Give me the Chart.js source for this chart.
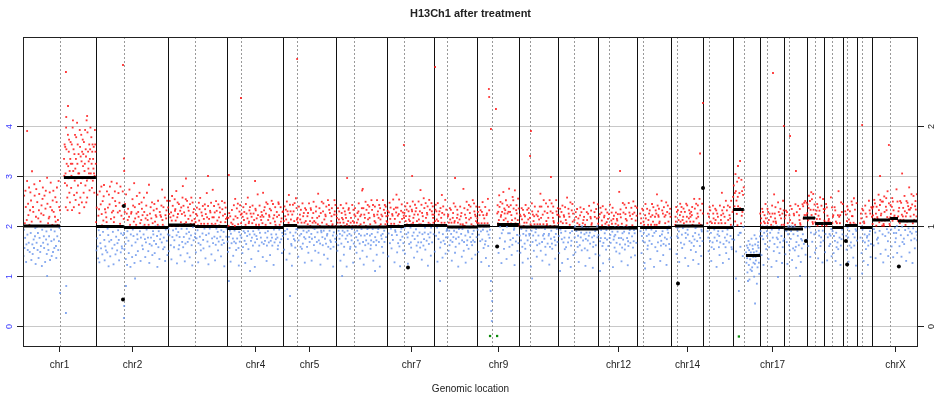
<!DOCTYPE html>
<html>
<head>
<meta charset="utf-8">
<script src="https://cdn.jsdelivr.net/npm/chart.js@4.4.0/dist/chart.umd.min.js"></script>
<style>
html, body { margin: 0; padding: 0; background: #fff; }
canvas { display: block; }
</style>
</head>
<body>
<canvas id="cnChart" width="941" height="394"></canvas>
<script>
// genome laid out end to end, positions in Mb
const chromosomes = ["chr1","chr2","chr3","chr4","chr5","chr6","chr7","chr8","chr9","chr10","chr11","chr12",
  "chr13","chr14","chr15","chr16","chr17","chr18","chr19","chr20","chr21","chr22","chrX"]
const chrEnd = [248, 493, 694, 884, 1064, 1238, 1397, 1544, 1686, 1819, 1955, 2088,
  2203, 2312, 2414, 2506, 2587, 2666, 2723, 2788, 2836, 2887, 3043]
const centromere = [126, 343, 585, 741, 932, 1125, 1295, 1442, 1595, 1724, 1873, 1992,
  2108, 2224, 2332, 2451, 2530, 2604, 2693, 2751, 2802, 2853, 2948]
const labeledChr = ["chr1","chr2","chr4","chr5","chr7","chr9","chr12","chr14","chr17","chrX"]
const leftTicks = [0, 1, 2, 3, 4]
const rightTicks = [0, 1, 2]

// segmented copy number
const segStart = [0, 139, 248, 343, 493, 585, 694, 741, 884, 932, 1064, 1238, 1295, 1397, 1442, 1544, 1612,
  1686, 1819, 1873, 1955, 2098, 2217, 2326, 2414, 2458, 2506, 2587, 2652, 2666, 2693, 2723, 2751, 2795, 2846,
  2887, 2948, 2975]
const segEnd = [126, 248, 343, 493, 585, 694, 741, 884, 932, 1064, 1238, 1295, 1397, 1442, 1544, 1588, 1686,
  1819, 1873, 1955, 2088, 2203, 2312, 2414, 2451, 2506, 2587, 2652, 2666, 2693, 2723, 2751, 2788, 2836, 2887,
  2948, 2975, 3043]
const segValue = [2.00, 2.97, 1.99, 1.97, 2.02, 1.99, 1.95, 1.97, 2.01, 1.98, 1.98, 1.99, 2.01, 2.01, 1.98, 2.00, 2.03,
  1.98, 1.97, 1.94, 1.96, 1.97, 2.00, 1.97, 2.33, 1.41, 1.97, 1.94, 2.16, 2.16, 2.05, 2.05, 1.97, 2.01, 1.97,
  2.12, 2.15, 2.10]

// probe levels: char -> offset from the segment (for copy number 2); capital = half a level higher
const levelChars = "0123456789abcdefghijklmnopqrstuvwxyz"
const levelValues = [-0.80, -0.76, -0.72, -0.68, -0.64, -0.60, -0.56, -0.52, -0.48, -0.44,
  -0.40, -0.335, -0.27, -0.205, -0.14, -0.075, -0.01, 0.055, 0.12, 0.185, 0.25, 0.315, 0.38, 0.445, 0.51,
  0.575, 0.64, 0.705, 0.77, 0.835, 0.90, 0.965, 1.03, 1.095, 1.16, 1.225]
const halfLevel = 0.0325

// one char per probe, probes in genomic order within each segment
const segProbes = [
  "K5fP9hCrm2AiuD8nJbsG7lQeo3HxA6mKc9tPdF1jRbgN8eI4lqCu7HakM0fOsbJd9Pg2LrcE6vnAh8IdjQ3mTfB5lGo7rKc9EjpHa4NsdGi8uBmFl",
  "kGnfMhaQmjEc9pIgLodHbkNjeGn9jQsHmaClFpiBkOgdRjnEhlAh8qMcKfpJbLgoIldNaHjqEmKbsFcPgLiJhnDkmQhgOjeLnFkiMhdGqnLj",
  "H8mCqa4JfL2rDbn9SkG6oEiPtc3LaK8jHr7FmD0qBnS5gIcuK9pEl1HjAro6MdgT8bKfQc3NlhS7eJa9MrDgI",
  "E9lNb4QdK1fImc7JsGh0eKlA5pFnDiu2MjB6hKqeC8lJgNrfH3dIomAk9GePlhC5jBnFrkId8hT2bKgMdjAo6HfeLcN7iGkbJmD0hOafG4lCkeJnBsIh9MdGaP3kFjLcO6e",
  "Lf7JdNgIak3HpCmEjg9BoKlHfQd1InJe8MaCgK5hLfJbOs9mCkG2jAohDfN6bLiKec4MjGdOaH0nFkBlGiC",
  "eH7kCmJfG2bNiLdpA8hKgJeMc9IhFnL4kDgQjBhM1eIaFlKgN6hCjRbGjMdK3hAoFlCiE8nBjGmKdH5fAoLcJgEb0NkHmIdFj",
  "Gc8JhDlaFk3EiBmgHd6jNcFhPkB9gMdJoHa1fLcNeK",
  "HdKg7JaMfIlcE2hNbKgDjPf9HiLeMgKc4JdHnAfKgIe0BmLhDjCgQk8FhAnEgJdIlBkH5rJbLgMcEhKo3AdNfIgBkJm6HcLeOdAgNj1FkBiMhCeGlJd9AoNkFhBgMiCj7ElD",
  "KgH8mEjDli3NfKcJhPg6MeKiAa0JgMdKcHnB9eOfLi",
  "FjH5cMgDkIaLeH9gNbJfKdH2mCiLgEaJhK7fNdBiGmLe3CjHgKoAiFd8HlMgBjEhQ7cJmGb1KfEoHdAlNf6IgCkJbMhDe4OaGnLfKc9BiJmGhD0aEkOlCnB",
  "GkDj8HmAfIlCeH3nGbKjDfImH6aElGkCjN0hDfBiLmGeK9aHjDcFnGi2LbHkEmJaGd7HfKcIlNeGb4JhDkFmR8sBm1HkDjAoGcL5eFnIbKgMjDh9AcOeLgFn3BkJiMdHgAc6OkElFjBnG0mIhDkCaJeO7gLfBnKhMdJiG",
  "HlJ5eKgNbImFh9DkJcOgLh2IfEmKqD7mJbGkOaH0cElFnIdK8bJ",
  "IkF6mHjDlGnC1eKiAjHmFb9GlKdNhIe4JcMgKfLaH7dJbNiGeK9rGbM3kDjHaOcLeF8nIgBkJm0DhAoClGe5FnKbJmIhD",
  "Jg7HlMdKiF2nHcJeKg9LbIhPk4DmBgJhAo6ClEf",
  "GdJk8HfAmIcLeH3gBjKdNfHi7MaCgEjLkH0dFbIgMhJeK5cFhGs8BmGkD2jHoAcLfE9nIgKdMjBh4AeOcGfNlBk6JiMdH",
  "IfK7hDmJgBlE2hKcNfJ9gIhAmB4gJkEhOaD0lCf",
  "JmGk6HpLcFnIj1DkMgEqH8lJbKiNg3FmJhDkLr9DkBmGj5HaOcNlEf0QiGbKmJd7HoAl",
  "GhDk7JcFmIa2LeGkHbJ9nDfHgLc4ImKeDjAh0GfNlBkDi8JhMgEcFk5AhJlDgIbMhQ8jMgB3kDhOeClFa6NiGhKbMjDe1OaGlCfNb9KjMiHdGc4AeOlFkBm",
  "HkD7gJmFiElC2nHgBkJd9MfIaHgPg4BmKdJhEo0AcLfNiK6g",
  "GjDh8LkFcMiAeJ3gHbKnDfL9hGiCjMkEaH1dGfLj9ClGeN5fBkJmHiDg0AcOeLkF7bMgJhDo",
  "HeJg6KcMdFlIhAn2BgJkEdHm9FiClGjAhK4dNeBgIlHfM0jCkDaGeHl8BjIfKhGdR7bKmJd3HaEoClGfN9bKjMhIdG1cAoElFkBg5MjDhKaOcFlE6nIgBkM",
  "KfHj7DmGcLiEh2BkNjFgDm9AhIeKcLg4JhFbNkDiMg0EhJaLfKhQ8nBkJmHiD3gAcOeLfK6bMgJdHkAo1ClFnEiGbK9mJd",
  "GjHm6KdFlCiE2gJnHbKmD9iFjLhAgK4eCnHjMfD0gIlBkHj8KbJmGd3HaOcLeF7nIgBkMj1DhOaClG5fEnBk",
  "HfKd8JgMcLiE3aHgBnKj9FdHmIgL0cKeJfHaD6nBgIkHrLf2KbMgJdHaO7cLeFnIg4BkMjDhOa9ClG",
  "JgM7hKdPl2IfNcJh9OgKaG4aCoElF0kBm",
  "HdKf8JgMcI3lEaHgN9bKjFdH5pClFeNi0GbKmJd7hO",
  "KfHj6DmGlC1iEkHbNj9GfDmHl4IaKcEgJh0FnKdGi8QbKjMiH3dGaCoElF7kBmGjDh2KaOcL",
  "HdJg7KmFcL2iEhGbK9jNdFhM4iGaElKh9HoA0cLgFeN6bKjMiH3dGaCoE",
  "Jg8KhDl3DhKa",
  "HkF7jMgDl2IcNhL9fEnIgBk4",
  "GjD8kHmFl3IeCkHo9AcLgF1eNbK",
  "JhK6dGmFl2IcGhH9dGaCoE4l",
  "HfJk7DgMcL3iEaHgBk9RgJdHk1AoClFeN",
  "KgJd8HmFlC2iEaKhGb9NjMjD4hOaClGf0EnB",
  "HdKj7GmFcL3iHeBnK9gJdDg1AcOeLfK5bMgJ",
  "JfHk8DmGlC2iEkAhGb9NjFdKm4HiLgEcL0fEnIgB6kMjDhOa3ClGfE",
  "GkHd7JmFl2IcGhD9gAcOe4lF",
  "HjDk8FmGcL3iEaHkGb9NjDfH1mIgLcKeJq5JdHkAoCl0FeNiGb7KmJdHoAcL"
]

// stray probes far from their segment
const strayX = [146, 340, 932, 741, 153, 147, 218, 14, 1401, 1584, 1585, 1608, 1591, 1727, 1295, 2550, 2312, 2853,
  2587, 2608, 2944, 343, 344, 554, 629, 700, 789, 1102, 1323, 1469, 1724, 1795, 2030, 2302, 2431, 2438, 2628, 2914, 2989,
  146, 126, 147, 343, 344, 350, 381, 82, 700, 772, 908, 1085, 1197, 1418, 1591, 1590, 1595, 1592, 1594, 1731, 1826,
  1962, 2115, 2424, 2434, 2465, 2489, 2567, 2642, 2812, 2853]
const strayY = [5.08, 5.22, 5.34, 4.56, 4.4, 4.18, 4.2, 3.9, 5.18, 4.74, 4.58, 4.34, 3.94, 3.9, 3.62, 5.06, 4.46, 4.02,
  4.0, 3.8, 3.62, 3.35, 3.1, 2.95, 3.0, 3.02, 2.9, 2.96, 3.0, 2.96, 3.4, 2.98, 3.1, 3.45, 3.2, 3.3, 3.1, 3.0, 3.05,
  0.26, 0.66, 0.8, 0.16, 0.4, 0.8, 0.95, 1.0, 0.9, 1.1, 0.6, 1.0, 1.1, 0.9, 0.9, 0.7, 0.5, 0.3, 0.1, 0.95, 1.1,
  1.1, 1.15, 0.95, 0.7, 0.9, 0.45, 0.98, 1.0, 0.95, 1.05]

// short segments drawn as single dots
const dotX = [343, 340, 1309, 1612, 2227, 2312, 2662, 2798, 2802, 2978]
const dotY = [2.40, 0.53, 1.17, 1.59, 0.85, 2.76, 1.70, 1.70, 1.23, 1.19]

// values clipped below the axis
const clipX = [1588, 1612, 2434]
const clipY = [-0.2, -0.2, -0.21]

const probeOffset = c => {
  const lc = c.toLowerCase()
  let v = levelValues[levelChars.indexOf(lc)]
  if (c !== lc) v += halfLevel
  return v
}

let redPts = []
let bluePts = []
const addPoint = (x, y) => {
  if (y >= 2) redPts.push({x: x, y: y})
  else bluePts.push({x: x, y: y})
}
segProbes.forEach((s, k) => {
  const n = s.length
  for (let i = 0; i < n; i++) {
    const x = segStart[k] + (i + 0.5) * (segEnd[k] - segStart[k]) / n
    addPoint(x, segValue[k] + probeOffset(s[i]) * segValue[k] / 2)
  }
})
strayX.forEach((x, i) => addPoint(x, strayY[i]))

let datasets = []
segValue.forEach((v, k) => {
  datasets.push({
    type: "line",
    data: [{x: segStart[k], y: v}, {x: segEnd[k], y: v}],
    borderColor: "#000",
    borderWidth: 3,
    borderCapStyle: "butt",
    pointRadius: 0,
    order: 0
  })
})
datasets.push({
  data: dotX.map((x, i) => ({x: x, y: dotY[i]})),
  backgroundColor: "#000", pointRadius: 2, pointBorderWidth: 0, order: 1
})
datasets.push({
  data: clipX.map((x, i) => ({x: x, y: clipY[i]})),
  backgroundColor: "#0a8a0a", pointStyle: "rect", pointRadius: 1.6, pointBorderWidth: 0, order: 1
})
datasets.push({
  data: redPts, backgroundColor: "rgba(255,20,20,0.85)",
  pointStyle: "rect", pointRadius: 1.3, pointBorderWidth: 0, order: 5
})
datasets.push({
  data: bluePts, backgroundColor: "rgba(100,145,235,0.8)",
  pointStyle: "rect", pointRadius: 1.3, pointBorderWidth: 0, order: 6
})

const chrStart = i => (i === 0 ? 0 : chrEnd[i - 1])

const frame = {
  id: "frame",
  beforeDatasetsDraw(chart) {
    const ctx = chart.ctx
    const a = chart.chartArea
    const xs = chart.scales.x
    const ys = chart.scales.y
    ctx.save()
    ctx.lineWidth = 1
    ctx.strokeStyle = "#c8c8c8"
    ;[0, 1, 3, 4].forEach(v => {
      const y = Math.round(ys.getPixelForValue(v)) + 0.5
      ctx.beginPath(); ctx.moveTo(a.left, y); ctx.lineTo(a.right, y); ctx.stroke()
    })
    ctx.strokeStyle = "#999"
    ctx.setLineDash([2, 2])
    centromere.forEach(c => {
      const x = Math.round(xs.getPixelForValue(c)) + 0.5
      ctx.beginPath(); ctx.moveTo(x, a.top); ctx.lineTo(x, a.bottom); ctx.stroke()
    })
    ctx.setLineDash([])
    ctx.strokeStyle = "#111"
    chrEnd.slice(0, -1).forEach(c => {
      const x = Math.round(xs.getPixelForValue(c)) + 0.5
      ctx.beginPath(); ctx.moveTo(x, a.top); ctx.lineTo(x, a.bottom); ctx.stroke()
    })
    const y2 = Math.round(ys.getPixelForValue(2)) + 0.5
    ctx.strokeStyle = "#000"
    ctx.beginPath(); ctx.moveTo(a.left, y2); ctx.lineTo(a.right, y2); ctx.stroke()
    ctx.restore()
  },
  afterDraw(chart) {
    const ctx = chart.ctx
    const a = chart.chartArea
    const xs = chart.scales.x
    const ys = chart.scales.y
    ctx.save()
    ctx.strokeStyle = "#222"
    ctx.lineWidth = 1
    ctx.strokeRect(a.left + 0.5, a.top + 0.5, a.right - a.left - 1, a.bottom - a.top)
    ctx.font = "9px 'Liberation Sans', Arial, sans-serif"
    ctx.textAlign = "center"
    ctx.textBaseline = "middle"
    leftTicks.forEach(v => {
      const y = Math.round(ys.getPixelForValue(v)) + 0.5
      ctx.strokeStyle = "#222"
      ctx.beginPath(); ctx.moveTo(a.left - 6, y); ctx.lineTo(a.left, y); ctx.stroke()
      ctx.save()
      ctx.translate(10, y)
      ctx.rotate(-Math.PI / 2)
      ctx.fillStyle = "#3a3aff"
      ctx.fillText(String(v), 0, 0)
      ctx.restore()
    })
    rightTicks.forEach(v => {
      const y = Math.round(ys.getPixelForValue(v * 2)) + 0.5
      ctx.strokeStyle = "#222"
      ctx.beginPath(); ctx.moveTo(a.right, y); ctx.lineTo(a.right + 6, y); ctx.stroke()
      ctx.save()
      ctx.translate(932, y)
      ctx.rotate(-Math.PI / 2)
      ctx.fillStyle = "#222"
      ctx.fillText(String(v), 0, 0)
      ctx.restore()
    })
    ctx.font = "10px 'Liberation Sans', Arial, sans-serif"
    ctx.fillStyle = "#222"
    labeledChr.forEach(name => {
      const i = chromosomes.indexOf(name)
      const x = Math.round(xs.getPixelForValue((chrStart(i) + chrEnd[i]) / 2)) + 0.5
      ctx.beginPath(); ctx.moveTo(x, a.bottom); ctx.lineTo(x, a.bottom + 6); ctx.stroke()
      ctx.fillText(name, x, 365)
    })
    const cx = (a.left + a.right) / 2
    ctx.fillText("Genomic location", cx, 389)
    ctx.font = "bold 11px 'Liberation Sans', Arial, sans-serif"
    ctx.fillText("H13Ch1 after treatment", cx, 14)
    ctx.restore()
  }
}

new Chart(document.getElementById("cnChart"), {
  type: "scatter",
  data: { datasets: datasets },
  options: {
    responsive: false,
    animation: false,
    devicePixelRatio: 1,
    layout: { padding: { left: 23, right: 23, top: 37, bottom: 48 } },
    plugins: { legend: { display: false }, tooltip: { enabled: false } },
    scales: {
      x: { type: "linear", min: 0, max: 3043, display: false },
      y: { type: "linear", min: -0.4, max: 5.78, display: false }
    }
  },
  plugins: [frame]
})
</script>
</body>
</html>
